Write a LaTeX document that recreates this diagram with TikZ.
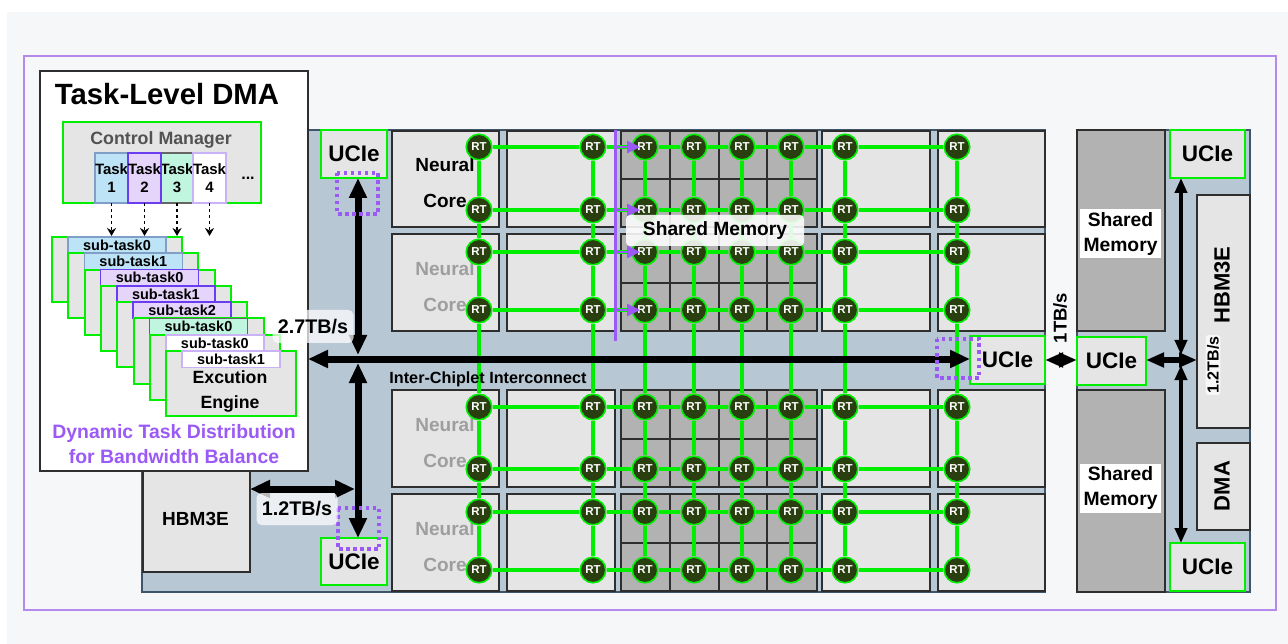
\documentclass[tikz,border=0pt]{standalone}
\usepackage{fontspec}
\setmainfont{Liberation Sans}
\usetikzlibrary{arrows.meta,calc}
\definecolor{panelbg}{HTML}{F6F7F9}
\definecolor{framepurple}{HTML}{B48AEE}
\definecolor{chipblue}{HTML}{B8C7D4}
\definecolor{chipedge}{HTML}{3E5468}
\definecolor{cellgray}{HTML}{E5E5E5}
\definecolor{memgray}{HTML}{B2B2B2}
\definecolor{edgegray}{HTML}{2E2E2E}
\definecolor{rtgreen}{HTML}{00EE00}
\definecolor{rtdark}{HTML}{2A3F10}
\definecolor{dmapurple}{HTML}{9B59F6}
\definecolor{blueA}{HTML}{BDE3F7}
\definecolor{blueB}{HTML}{7F9FC6}
\definecolor{purpA}{HTML}{E6D5FA}
\definecolor{purpB}{HTML}{6A3DF0}
\definecolor{mintA}{HTML}{C0F5E0}
\definecolor{mintB}{HTML}{666666}
\definecolor{whiteB}{HTML}{C9B2F5}
\tikzset{
  cellbox/.style={draw=edgegray,fill=cellgray,line width=1.7},
  membox/.style={draw=edgegray,fill=memgray,line width=1.7},
  greenbox/.style={draw=rtgreen,fill=cellgray,line width=2},
  plainnode/.style={anchor=north west,inner sep=0,outer sep=0,align=center},
  ucie/.style={plainnode,greenbox,font=\bfseries\fontsize{22.5}{24}\selectfont},
  rtnode/.style={circle,draw=rtgreen,fill=rtdark,line width=1.6,minimum size=25.5,inner sep=0,text=white,font=\bfseries\fontsize{11.5}{12}\selectfont},
  link/.style={draw=rtgreen,line width=3.2},
  tasknode/.style={plainnode,line width=1.7,minimum width=32.5,minimum height=50,font=\bfseries\fontsize{15}{18.5}\selectfont},
  subtask/.style={plainnode,line width=1.6,minimum width=98,minimum height=16.3,font=\bfseries\fontsize{14.5}{16}\selectfont},
  corelabel/.style={align=center,font=\bfseries\fontsize{19}{36}\selectfont},
  ratelabel/.style={fill=white,fill opacity=.72,text opacity=1,rounded corners=5,font=\bfseries\fontsize{19.7}{22}\selectfont},
  bigarrow/.style={line width=7,{Triangle[length=20,width=17]}-{Triangle[length=20,width=17]}},
  vertarrow/.style={line width=3.8,{Triangle[length=15,width=12]}-{Triangle[length=15,width=12]}},
  hozarrow/.style={line width=5.5,{Triangle[length=18,width=14]}-{Triangle[length=18,width=14]}},
  dotbox/.style={draw=dmapurple,line width=3.2,dash pattern=on 3.5pt off 3.5pt},
}
\begin{document}
\begin{tikzpicture}[x=1pt,y=-1pt]
\useasboundingbox (0,0) rectangle (1288,644);
\fill[white] (0,0) rectangle (1288,644);
\fill[panelbg] (7,12) rectangle (1288,644);
\draw[framepurple,line width=2.5] (24,56) rectangle (1276,610);
% chip bases
\draw[chipedge,fill=chipblue,line width=1.4] (142,130) rectangle (1045,592);
\draw[chipedge,fill=chipblue,line width=1.4] (1077,130) rectangle (1250,592);
% compute tiles
\foreach \xa/\xb in {392/499,507/615,822/930,938/1045}
  \foreach \ya/\yb in {131/227,234/331,390/487,494/591}
    \draw[cellbox] (\xa,\ya) rectangle (\xb,\yb);
\foreach \ya/\ym/\yb in {131/179/227,234/283/331,390/439/487,494/543/591}{
  \draw[membox] (621,\ya) rectangle (817,\yb);
  \draw[edgegray,line width=1.7] (621,\ym) -- (817,\ym);
  \foreach \xm in {670,719,767} \draw[edgegray,line width=1.7] (\xm,\ya) -- (\xm,\yb);
}
\node[corelabel] (core1) at (445,183) {Neural\\Core};
\node[corelabel,text=black!38] (core2) at (445,287) {Neural\\Core};
\node[corelabel,text=black!38] (core3) at (445,443) {Neural\\Core};
\node[corelabel,text=black!38] (core4) at (445,547) {Neural\\Core};
% router mesh
\foreach \r/\yy in {1/147,2/210,3/252,4/310,5/407,6/469,7/512,8/570}
  \foreach \c/\xx in {1/479,2/593,3/645,4/694,5/742,6/791,7/845,8/957}
    \node[rtnode] (rt\c\r) at (\xx,\yy) {RT};
\foreach \r in {1,...,8} \foreach \c [count=\n from 2] in {1,...,7} \draw[link] (rt\c\r) -- (rt\n\r);
\foreach \c in {1,...,8} \foreach \r [count=\n from 2] in {1,...,7} \draw[link] (rt\c\r) -- (rt\c\n);
% purple bus
\coordinate (pbusA) at (615.5,130); \coordinate (pbusB) at (615.5,341);
\draw[dmapurple,line width=3] (pbusA)--(pbusB);
\foreach \r in {1,2,3,4}
  \draw[dmapurple,line width=2.6,shorten >=5,-{Triangle[length=13,width=12]}] (pbusA |- rt3\r) -- (rt3\r.center);
\node[fill=white,fill opacity=.88,text opacity=1,rounded corners=4,minimum width=178,minimum height=31,inner sep=0,font=\bfseries\fontsize{19.2}{21}\selectfont] (sharedlbl) at (715,230.5) {Shared Memory};
% right chip
\draw[membox] (1077,130) rectangle (1165,331);
\draw[membox] (1077,390) rectangle (1165,592);
\node[fill=white,minimum width=81,minimum height=49,inner sep=0,align=center,font=\bfseries\fontsize{19.3}{25}\selectfont] (memA) at (1120.5,234) {Shared\\Memory};
\node[fill=white,minimum width=81,minimum height=49,inner sep=0,align=center,font=\bfseries\fontsize{19.3}{25}\selectfont] (memB) at (1120.5,488) {Shared\\Memory};
\node[plainnode,cellbox,minimum width=53,minimum height=233] (hbmR) at (1197,195) {};
\node[rotate=90,font=\bfseries\fontsize{22}{24}\selectfont] (hbmRtxt) at (1222,285) {HBM3E};
\node[plainnode,cellbox,minimum width=53,minimum height=87] (dmaR) at (1197,443) {};
\node[rotate=90,font=\bfseries\fontsize{22}{24}\selectfont] (dmaRtxt) at (1222,486) {DMA};
% UCIe ports
\node[ucie,minimum width=66,minimum height=48] (ucieA) at (321,130) {UCIe};
\node[ucie,minimum width=66,minimum height=47] (ucieB) at (321,538) {UCIe};
\node[ucie,minimum width=75,minimum height=48] (ucieC) at (970,336) {UCIe};
\node[ucie,minimum width=69,minimum height=48] (ucieD) at (1077,337) {UCIe};
\node[ucie,minimum width=75,minimum height=48] (ucieE) at (1170,130) {UCIe};
\node[ucie,minimum width=75,minimum height=48] (ucieF) at (1170,543) {UCIe};
\node[plainnode,cellbox,minimum width=107,minimum height=101] (hbmL) at (143,471) {};
\node[font=\bfseries\fontsize{19}{21}\selectfont] (hbmLtxt) at (195.5,519) {HBM3E};
% task-level DMA panel
\node[plainnode,draw=edgegray,fill=white,line width=1.7,minimum width=268,minimum height=400] (dmapanel) at (40,71) {};
\node[font=\bfseries\fontsize{29.3}{32}\selectfont] (dmatitle) at (167,94) {Task-Level DMA};
\node[plainnode,greenbox,minimum width=198,minimum height=81] (ctrl) at (63,122) {};
\node[text=black!68,font=\bfseries\fontsize{17.8}{20}\selectfont] (ctrltxt) at (161,140) {Control Manager};
\node[tasknode,draw=blueB,fill=blueA] (task1) at (95,153) {Task\\1};
\node[tasknode,draw=mintB,fill=mintA] (task3) at (160.5,153) {Task\\3};
\node[tasknode,draw=purpB,fill=purpA] (task2) at (128,153) {Task\\2};
\node[tasknode,draw=whiteB,fill=white] (task4) at (193,153) {Task\\4};
\node[font=\bfseries\fontsize{16}{17}\selectfont] (taskmore) at (248,178) {...};
\coordinate (taskend) at (0,236);
\foreach \t in {1,2,3,4}
  \draw[dashed,line width=1.4,-{Stealth[length=8,width=9]}] (task\t.south) -- (task\t.south |- taskend);
\foreach \k/\nm/\fc/\dc in {0/0/blueA/blueB,1/1/blueA/blueB,2/0/purpA/purpB,3/1/purpA/purpB,4/2/purpA/purpB,5/0/mintA/mintB,6/0/white/whiteB}{
  \draw[greenbox] (52+16.3*\k,237+16.3*\k) rectangle +(130,65);
  \node[subtask,fill=\fc,draw=\dc] (sub\k) at (68+16.3*\k,237+16.3*\k) {sub-task\nm};
}
\node[plainnode,greenbox,minimum width=130,minimum height=65] (engine) at (166,351) {};
\node[subtask,fill=white,draw=whiteB] (sub7) at (182,351) {sub-task1};
\node[align=center,font=\bfseries\fontsize{17.7}{25}\selectfont] (enginetxt) at (230,391) {Excution\\Engine};
\node[align=center,text=dmapurple,font=\bfseries\fontsize{19.4}{25}\selectfont] (dyntxt) at (174,444) {Dynamic Task Distribution\\for Bandwidth Balance};
% interconnect
\coordinate (jctL) at (358,359); \coordinate (jctH) at (355,489); \coordinate (jctR) at (1181,360);
\draw[bigarrow] (dmapanel.east |- jctL) -- (ucieC.west |- jctL);
\draw[bigarrow] (ucieA.south -| jctL) -- ($(jctL)+(0,-4)$);
\draw[bigarrow] ($(jctL)+(0,4)$) -- (ucieB.north -| jctL);
\draw[bigarrow] (hbmL.east |- jctH) -- (jctH);
\draw[hozarrow] (ucieC.east |- jctR) -- (ucieD.west |- jctR);
\draw[hozarrow] (ucieD.east |- jctR) -- (hbmR.west |- jctR);
\draw[vertarrow] (ucieE.south -| jctR) -- ($(jctR)+(0,-5)$);
\draw[vertarrow] ($(jctR)+(0,5)$) -- (ucieF.north -| jctR);
\draw[dotbox] (337,173) rectangle (378,214);
\draw[dotbox] (338,508) rectangle (379,549);
\draw[dotbox] (937,339) rectangle (979,378);
\node[ratelabel,minimum width=81,minimum height=33,inner sep=0] (rateA) at (313,326.5) {2.7TB/s};
\node[ratelabel,minimum width=81,minimum height=32,inner sep=0] (rateB) at (297,509) {1.2TB/s};
\node[font=\bfseries\fontsize{16.2}{18}\selectfont] (interlbl) at (488,379) {Inter-Chiplet Interconnect};
\node[rotate=90,font=\bfseries\fontsize{18.5}{20}\selectfont] (rateC) at (1060,318) {1TB/s};
\node[rotate=90,fill=white,fill opacity=.72,text opacity=1,rounded corners=3,inner sep=1.5,font=\bfseries\fontsize{16}{18}\selectfont] (rateD) at (1213,365) {1.2TB/s};
\end{tikzpicture}
\end{document}
